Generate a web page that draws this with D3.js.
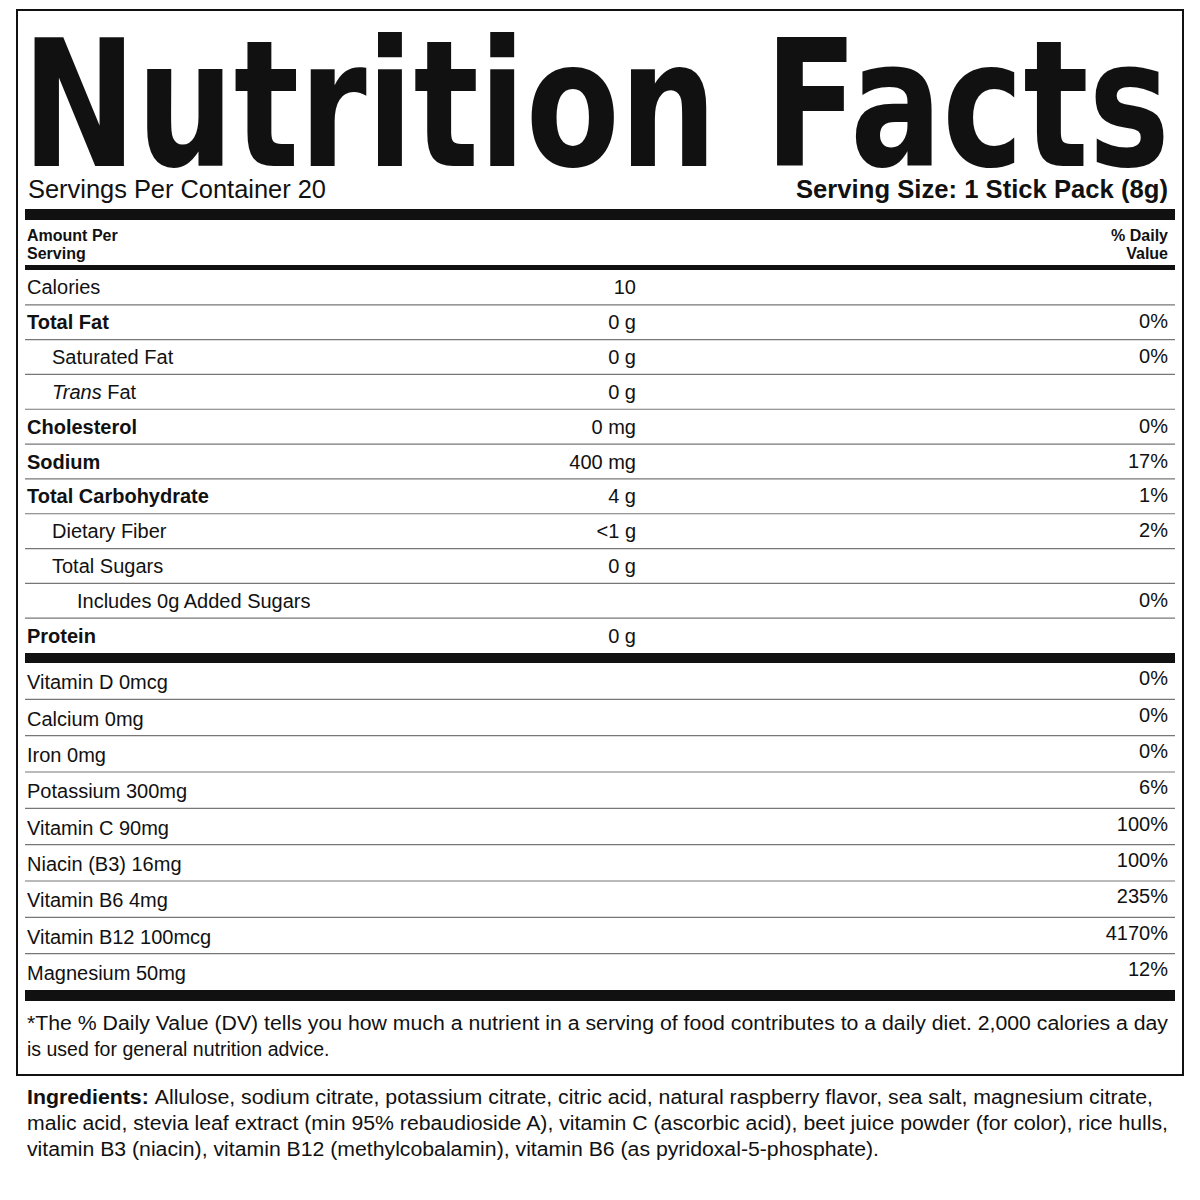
<!DOCTYPE html>
<html><head><meta charset="utf-8">
<script src="https://cdn.jsdelivr.net/npm/d3@7"></script>
<style>body{margin:0;background:#fff}</style>
</head><body><div id="chart"></div>
<script>
// Nutrition label data
const nutrients = ['Calories', 'Total Fat', 'Saturated Fat', 'Trans Fat', 'Cholesterol', 'Sodium',
  'Total Carbohydrate', 'Dietary Fiber', 'Total Sugars', 'Includes 0g Added Sugars', 'Protein'];
const amounts = ['10', '0 g', '0 g', '0 g', '0 mg', '400 mg', '4 g', '<1 g', '0 g', '', '0 g'];
const dailyValues = ['', '0%', '0%', '', '0%', '17%', '1%', '2%', '', '0%', ''];
const indentLevel = [0, 0, 1, 1, 0, 0, 0, 1, 1, 2, 0];
const boldRow = [false, true, false, false, true, true, true, false, false, false, true];
const vitamins = ['Vitamin D 0mcg', 'Calcium 0mg', 'Iron 0mg', 'Potassium 300mg', 'Vitamin C 90mg',
  'Niacin (B3) 16mg', 'Vitamin B6 4mg', 'Vitamin B12 100mcg', 'Magnesium 50mg'];
const vitaminDV = ['0%', '0%', '0%', '6%', '100%', '100%', '235%', '4170%', '12%'];
const footnote = ['*The % Daily Value (DV) tells you how much a nutrient in a serving of food contributes to a daily diet. 2,000 calories a day',
  'is used for general nutrition advice.'];
const footnoteWidth = [1141, null];
const ingredients = [
  ['Ingredients: ', 'Allulose, sodium citrate, potassium citrate, citric acid, natural raspberry flavor, sea salt, magnesium citrate,'],
  ['', 'malic acid, stevia leaf extract (min 95% rebaudioside A), vitamin C (ascorbic acid), beet juice powder (for color), rice hulls,'],
  ['', 'vitamin B3 (niacin), vitamin B12 (methylcobalamin), vitamin B6 (as pyridoxal-5-phosphate).']];
const ingredientWidth = [1126, 1141, 852];

const width = 1200, height = 1200;
const left = 25, right = 1175;
const font = 'Liberation Sans, Arial, sans-serif';

const svg = d3.select('#chart').append('svg').attr('width', width).attr('height', height)
  .style('font-family', font).attr('fill', '#111');

// Outer box
svg.append('rect').attr('x', 17).attr('y', 10).attr('width', 1166).attr('height', 1065)
  .attr('fill', 'none').attr('stroke', '#111').attr('stroke-width', 2);

// Title
svg.append('text').attr('x', 22).attr('y', 166).attr('textLength', 1148).attr('lengthAdjust', 'spacingAndGlyphs')
  .attr('font-family', 'DejaVu Sans, sans-serif').attr('font-weight', 'bold').attr('font-size', 176)
  .text('Nutrition Facts');

svg.append('text').attr('x', 28).attr('y', 198).attr('font-size', 25)
  .attr('textLength', 298).attr('lengthAdjust', 'spacingAndGlyphs').text('Servings Per Container 20');
svg.append('text').attr('x', 1168).attr('y', 198).attr('font-size', 25).attr('font-weight', 'bold')
  .attr('text-anchor', 'end').attr('textLength', 372).attr('lengthAdjust', 'spacingAndGlyphs')
  .text('Serving Size: 1 Stick Pack (8g)');

const bar = (y, h) => svg.append('rect').attr('x', left).attr('y', y).attr('width', right - left).attr('height', h).attr('fill', '#111');
bar(209, 11);
bar(265, 5);
bar(653, 10);
bar(990, 11);

svg.append('text').attr('x', 27).attr('y', 241).attr('font-size', 16).attr('font-weight', 'bold').text('Amount Per');
svg.append('text').attr('x', 27).attr('y', 259).attr('font-size', 16).attr('font-weight', 'bold').text('Serving');
svg.append('text').attr('x', 1168).attr('y', 241).attr('font-size', 16).attr('font-weight', 'bold').attr('text-anchor', 'end').text('% Daily');
svg.append('text').attr('x', 1168).attr('y', 259).attr('font-size', 16).attr('font-weight', 'bold').attr('text-anchor', 'end').text('Value');

// Nutrient rows
const yN = d3.scaleBand().domain(d3.range(nutrients.length)).range([270, 653]);
const indentX = d3.scaleOrdinal().domain([0, 1, 2]).range([27, 52, 77]);
const nRows = svg.append('g').selectAll('g').data(nutrients).join('g');
nRows.filter((d, i) => i > 0).append('line')
  .attr('x1', left).attr('x2', right).attr('y1', (d, i) => yN(i + 1)).attr('y2', (d, i) => yN(i + 1))
  .attr('stroke', '#777').attr('stroke-width', 1.2);
nRows.append('text').attr('x', (d, i) => indentX(indentLevel[i])).attr('y', (d, i) => yN(i) + yN.bandwidth() / 2 + 7)
  .attr('font-size', 20).attr('font-weight', (d, i) => boldRow[i] ? 'bold' : 'normal')
  .each(function(d) {
    const t = d3.select(this);
    if (d === 'Trans Fat') { t.append('tspan').attr('font-style', 'italic').text('Trans'); t.append('tspan').text(' Fat'); }
    else t.text(d);
  });
nRows.append('text').attr('x', 636).attr('y', (d, i) => yN(i) + yN.bandwidth() / 2 + 7)
  .attr('font-size', 20).attr('text-anchor', 'end').text((d, i) => amounts[i]);
nRows.append('text').attr('x', 1168).attr('y', (d, i) => yN(i) + yN.bandwidth() / 2 + 6)
  .attr('font-size', 20).attr('text-anchor', 'end').text((d, i) => dailyValues[i]);

// Vitamin rows
const yV = d3.scaleBand().domain(d3.range(vitamins.length)).range([663, 990]);
const vRows = svg.append('g').selectAll('g').data(vitamins).join('g');
vRows.filter((d, i) => i > 0).append('line')
  .attr('x1', left).attr('x2', right).attr('y1', (d, i) => yV(i + 1)).attr('y2', (d, i) => yV(i + 1))
  .attr('stroke', '#777').attr('stroke-width', 1.2);
vRows.append('text').attr('x', 27).attr('y', (d, i) => yV(i) + yV.bandwidth() / 2 + 8)
  .attr('font-size', 20).text(d => d);
vRows.append('text').attr('x', 1168).attr('y', (d, i) => yV(i) + yV.bandwidth() / 2 + 4)
  .attr('font-size', 20).attr('text-anchor', 'end').text((d, i) => vitaminDV[i]);

// Footnote
svg.append('g').selectAll('text').data(footnote).join('text')
  .attr('x', 27).attr('y', (d, i) => 1030 + i * 26).attr('font-size', 19.5)
  .each(function(d, i) { if (footnoteWidth[i]) d3.select(this).attr('textLength', footnoteWidth[i]).attr('lengthAdjust', 'spacingAndGlyphs'); })
  .text(d => d);

// Ingredients
const ing = svg.append('g').selectAll('text').data(ingredients).join('text')
  .attr('x', 27).attr('y', (d, i) => 1104 + i * 26).attr('font-size', 19.5)
  .attr('textLength', (d, i) => ingredientWidth[i]).attr('lengthAdjust', 'spacingAndGlyphs');
ing.append('tspan').attr('font-weight', 'bold').text(d => d[0]);
ing.append('tspan').text(d => d[1]);
</script></body></html>
